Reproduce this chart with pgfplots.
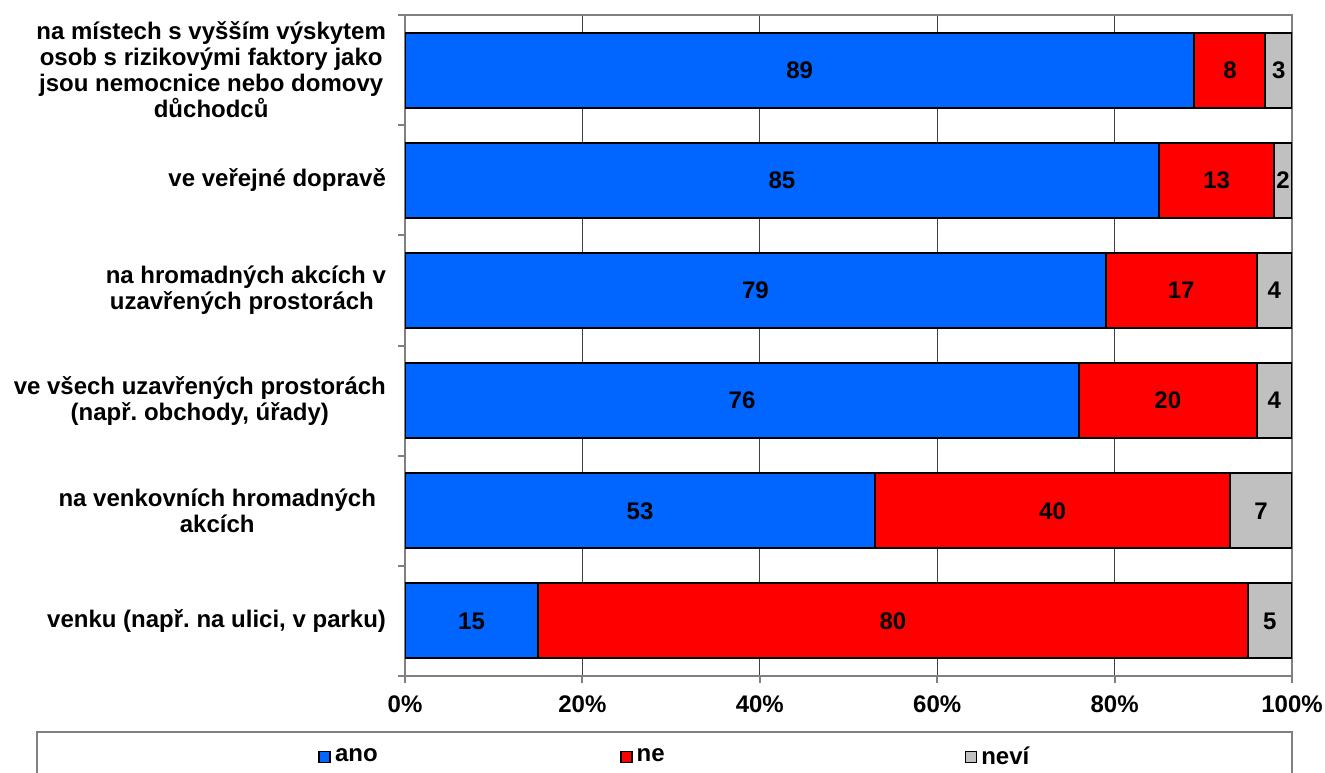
\documentclass[border=0pt]{standalone}
\usepackage{pgfplots}
\pgfplotsset{compat=1.18}
\usepackage{fontspec}
\setmainfont{Liberation Sans}
\frenchspacing
\definecolor{cano}{RGB}{0,102,255}
\definecolor{cne}{RGB}{255,0,0}
\definecolor{cnevi}{RGB}{192,192,192}
\definecolor{axgray}{RGB}{128,128,128}
\begin{document}
\begin{tikzpicture}[font=\fontsize{12}{13}\selectfont\bfseries]
\useasboundingbox (0,0) rectangle (662.5pt,386pt);
\pgfplotsset{base/.style={
  at={(202.5pt,48pt)}, anchor=south west, scale only axis,
  width=443.5pt, height=330.5pt,
  xmin=0, xmax=100, ymin=-0.5, ymax=5.5, y dir=reverse}}
\begin{axis}[base, xbar stacked, bar width=0.68,
  axis line style={axgray, line width=1pt},
  /pgf/number format/assume math mode=true,
  xtick={0,20,...,100}, xticklabel={\pgfmathprintnumber{\tick}\%},
  xticklabel style={yshift=-3pt},
  xmajorgrids, major grid style={black!75, line width=0.5pt},
  tick style={axgray, line width=1pt}, tick align=outside, major tick length=3.5pt,
  tick pos=left,
  ytick={-0.5,0.5,...,5.5}, yticklabels={,,,,,,,},
  extra y ticks={0,1,2,3,4,5},
  extra y tick labels={{na místech s vyšším výskytem\\osob s rizikovými faktory jako\\jsou nemocnice nebo domovy\\důchodců},
    {ve veřejné dopravě},
    {na hromadných akcích v\\uzavřených prostorách\kern4pt},
    {ve všech uzavřených prostorách\\(např. obchody, úřady)},
    {na venkovních hromadných\kern5pt\\akcích\kern5pt},
    {venku (např. na ulici, v parku)}},
  extra y tick style={major tick length=0pt, tick label style={align=center, xshift=-6pt}},
  legend columns=3,
  legend style={at={(-0.098,-0.1225)}, anchor=west, draw=none, fill=none, inner sep=0pt,
    /tikz/every even column/.style={column sep=0pt}},
  legend image code/.code={\draw[#1, line width=0.8pt] (0pt,-2.75pt) rectangle (5.5pt,2.75pt);},
]
\addplot[fill=cano, draw=black, line width=1pt] coordinates {(89,0) (85,1) (79,2) (76,3) (53,4) (15,5)};
\addlegendentry{\makebox[140.5pt][l]{ano}}
\addplot[fill=cne, draw=black, line width=1pt] coordinates {(8,0) (13,1) (17,2) (20,3) (40,4) (80,5)};
\addlegendentry{\makebox[162pt][l]{ne}}
\addplot[fill=cnevi, draw=black, line width=1pt] coordinates {(3,0) (2,1) (4,2) (4,3) (7,4) (5,5)};
\addlegendentry{neví}
\end{axis}
\begin{axis}[base, hide axis, clip=false]
\addplot[draw=none, mark=none, nodes near coords={\pgfplotspointmeta}, nodes near coords align=center,
  point meta=explicit symbolic] coordinates {
  (44.5,0)[89] (93,0)[8] (98.5,0)[3]
  (42.5,1)[85] (91.5,1)[13] (99,1)[2]
  (39.5,2)[79] (87.5,2)[17] (98,2)[4]
  (38,3)[76] (86,3)[20] (98,3)[4]
  (26.5,4)[53] (73,4)[40] (96.5,4)[7]
  (7.5,5)[15] (55,5)[80] (97.5,5)[5]};
\end{axis}
\draw[axgray, line width=1pt] (18.5pt,-2pt) -- (18.5pt,20pt) -- (646pt,20pt) -- (646pt,-2pt);
\end{tikzpicture}
\end{document}
